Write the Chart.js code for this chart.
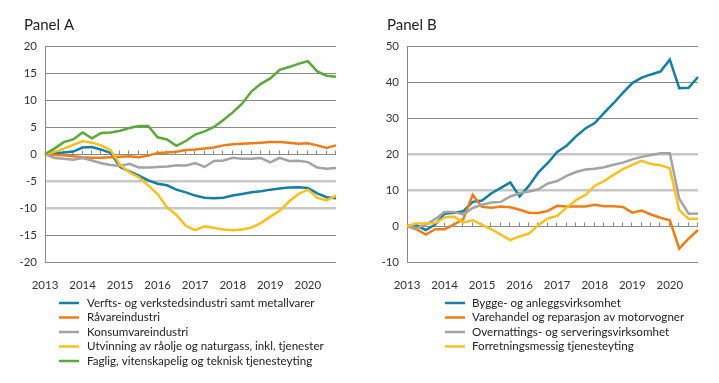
<!DOCTYPE html>
<html><head><meta charset="utf-8">
<script src="https://cdn.jsdelivr.net/npm/chart.js@4"></script>
<style>
html,body{margin:0;padding:0;background:#fff;}
#wrap{position:relative;width:719px;height:383px;overflow:hidden;}
canvas{position:absolute;top:0;}
</style></head><body>
<div id="wrap">
<canvas id="cA" width="360" height="383" style="left:0"></canvas>
<canvas id="cB" width="359" height="383" style="left:360px"></canvas>
</div>
<script>
const quarters = ['2013K1','2013K2','2013K3','2013K4','2014K1','2014K2','2014K3','2014K4',
  '2015K1','2015K2','2015K3','2015K4','2016K1','2016K2','2016K3','2016K4',
  '2017K1','2017K2','2017K3','2017K4','2018K1','2018K2','2018K3','2018K4',
  '2019K1','2019K2','2019K3','2019K4','2020K1','2020K2','2020K3','2020K4'];

// Panel A
const namesA = ['Verfts- og verkstedsindustri samt metallvarer','Råvareindustri','Konsumvareindustri',
  'Utvinning av råolje og naturgass, inkl. tjenester','Faglig, vitenskapelig og teknisk tjenesteyting'];
const verftsA = [0,0.2,0.3,0.45,1.2,1.3,0.8,0.2,-2.4,-3.2,-4.0,-4.9,-5.5,-5.8,-6.6,-7.1,-7.7,-8.1,-8.2,-8.1,-7.7,-7.4,-7.1,-6.9,-6.6,-6.4,-6.2,-6.15,-6.3,-7.3,-8.0,-8.2];
const ravareA = [0,-0.2,-0.25,-0.4,-0.6,-0.7,-0.7,-0.6,-0.5,-0.4,-0.6,-0.3,0.2,0.3,0.4,0.75,0.85,1.0,1.2,1.6,1.8,1.9,2.0,2.1,2.2,2.2,2.1,1.9,2.0,1.6,1.1,1.6];
const konsumA = [0,-0.75,-0.9,-1.05,-0.75,-1.2,-1.7,-2.05,-2.2,-1.8,-2.5,-2.5,-2.4,-2.3,-2.1,-2.15,-1.7,-2.4,-1.3,-1.2,-0.7,-0.9,-0.9,-0.75,-1.55,-0.7,-1.3,-1.25,-1.5,-2.5,-2.75,-2.6];
const utvinningA = [0,0.4,1.0,1.7,2.4,2.1,1.6,0.7,-2.0,-3.4,-4.3,-5.8,-7.4,-9.9,-11.3,-13.3,-14.1,-13.4,-13.7,-14.0,-14.1,-14.0,-13.6,-12.8,-11.6,-10.5,-8.8,-7.4,-6.6,-8.1,-8.6,-7.7];
const fagligA = [0,1.0,2.2,2.7,4.0,2.9,3.9,4.0,4.3,4.8,5.2,5.2,3.1,2.7,1.5,2.4,3.6,4.2,5.0,6.3,7.7,9.3,11.6,13.0,14.0,15.6,16.1,16.7,17.2,15.3,14.5,14.3];

// Panel B
const namesB = ['Bygge- og anleggsvirksomhet','Varehandel og reparasjon av motorvogner',
  'Overnattings- og serveringsvirksomhet','Forretningsmessig tjenesteyting'];
const byggeB = [0,0.2,-1.1,0.4,3.4,3.7,4.1,6.7,7.1,9.1,10.6,12.1,8.2,11.2,14.9,17.5,20.6,22.3,24.9,27.1,28.6,31.4,34.1,37.0,39.7,41.2,42.1,42.9,46.2,38.3,38.4,41.4];
const varehandelB = [0,-0.9,-2.4,-0.9,-0.9,0.4,1.9,8.7,5.3,5.1,5.4,5.2,4.5,3.7,3.6,4.2,5.6,5.4,5.4,5.4,5.9,5.5,5.5,5.3,3.7,4.3,3.2,2.3,1.6,-6.3,-3.5,-1.1];
const overnattingB = [0,-0.6,0.4,1.9,3.9,3.9,3.2,5.0,5.9,6.5,6.7,8.2,9.1,9.6,10.2,11.8,12.5,13.9,15.0,15.7,15.9,16.3,17.0,17.6,18.5,19.2,19.7,20.2,20.2,7.6,3.4,3.5];
const forretningB = [0,0.7,0.7,0.8,2.4,2.6,1.0,1.6,0.3,-0.9,-2.4,-3.9,-2.9,-2.1,0.3,2.1,2.8,5.1,7.2,8.6,11.2,12.5,14.2,15.8,17.0,18.1,17.2,16.9,16.0,4.4,2.0,2.0];

const colorsA = ['#137fa5','#ef7d17','#a3a3a3','#fcbf1e','#5aa93a'];
const colorsB = ['#137fa5','#ef7d17','#a3a3a3','#fcbf1e'];

const FONT = 'Lato';
Chart.defaults.font.family = FONT;

const decor = {
  id: 'decor',
  beforeDatasetsDraw(chart) {
    const ctx = chart.ctx, x = chart.scales.x, y = chart.scales.y;
    const y0 = Math.round(y.getPixelForValue(0)) + 0.5;
    ctx.save();
    ctx.strokeStyle = '#8a8a8a'; ctx.lineWidth = 1;
    for (let i = 1; i < chart.data.labels.length; i++) {
      const px = Math.round(x.getPixelForValue(i)) - 0.5;
      ctx.beginPath(); ctx.moveTo(px, y0); ctx.lineTo(px, y0 - 4); ctx.stroke();
    }
    ctx.restore();
  },
  afterDraw(chart, args, o) {
    const ctx = chart.ctx;
    ctx.save();
    ctx.fillStyle = '#222';
    ctx.font = '15px ' + FONT;
    ctx.textBaseline = 'alphabetic';
    ctx.fillText(o.title, o.titleX, 30);
    ctx.font = '11.6px ' + FONT;
    ctx.textBaseline = 'middle';
    chart.data.datasets.forEach((d, k) => {
      const yy = 303 + 14.5 * k;
      ctx.strokeStyle = d.borderColor; ctx.lineWidth = 2.5;
      ctx.beginPath(); ctx.moveTo(o.lineX, yy); ctx.lineTo(o.lineX + 20, yy); ctx.stroke();
      ctx.fillStyle = '#222';
      ctx.fillText(d.label, o.textX, yy);
    });
    ctx.restore();
  }
};

function makeChart(id, names, values, colors, sc, deco) {
  const datasets = names.map((n, i) => ({
    label: n, data: values[i], borderColor: colors[i], backgroundColor: colors[i],
    borderWidth: 2.5, pointRadius: 0, tension: 0, fill: false, order: -i
  }));
  return new Chart(document.getElementById(id), {
    type: 'line',
    data: { labels: quarters, datasets },
    options: {
      responsive: false, animation: false, events: [],
      layout: { padding: { top: 46, left: 0, right: sc.padRight, bottom: 91 } },
      plugins: { legend: { display: false }, tooltip: { enabled: false }, title: { display: false }, decor: deco },
      scales: {
        x: {
          type: 'category', offset: false,
          grid: { display: false }, border: { display: false },
          ticks: { autoSkip: false, maxRotation: 0, minRotation: 0, padding: 8, color: '#333', font: { size: 11.5 },
            callback: (v, i) => (i % 4 === 0 ? quarters[i].slice(0, 4) : '') },
          afterFit: s => { s.height = 30; }
        },
        y: {
          min: sc.min, max: sc.max,
          ticks: { stepSize: sc.step, padding: 8, color: '#333', font: { size: 11.5 } },
          grid: { drawTicks: false,
            color: c => sc.light.includes(c.tick.value) ? '#c8c8c8' : '#8a8a8a',
            lineWidth: c => sc.light.includes(c.tick.value) ? 2.5 : 1 },
          border: { display: true, color: '#8a8a8a', width: 1 },
          afterFit: s => { s.width = sc.yWidth; }
        }
      }
    },
    plugins: [decor]
  });
}

makeChart('cA', namesA, [verftsA, ravareA, konsumA, utvinningA, fagligA], colorsA,
  { min: -20, max: 20, step: 5, light: [-5, -10], yWidth: 45, padRight: 24 },
  { title: 'Panel A', titleX: 24, lineX: 59, textX: 87 });
makeChart('cB', namesB, [byggeB, varehandelB, overnattingB, forretningB], colorsB,
  { min: -10, max: 50, step: 10, light: [10, 20], yWidth: 47, padRight: 21 },
  { title: 'Panel B', titleX: 27, lineX: 85, textX: 112 });
</script>
</body></html>
